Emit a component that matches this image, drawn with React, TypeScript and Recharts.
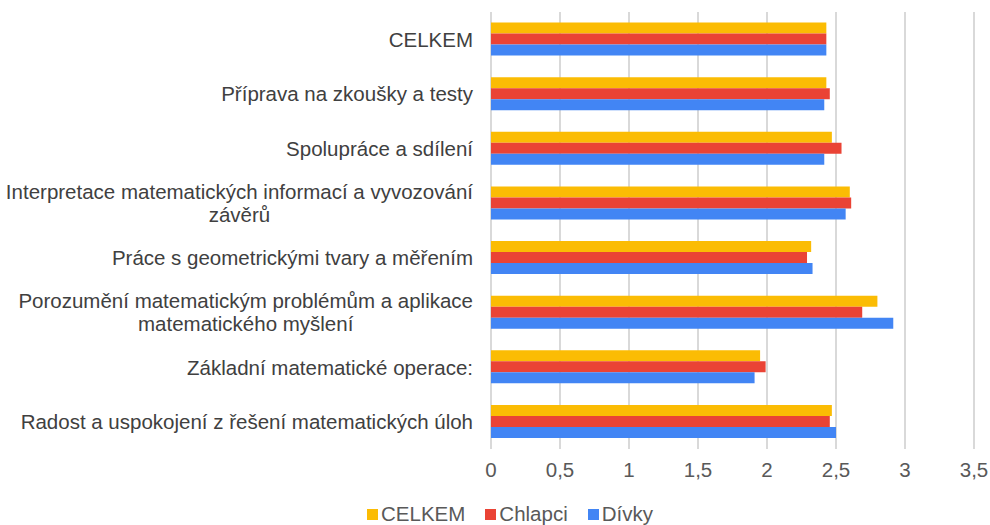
import React from 'react'
import { BarChart, Bar, XAxis, YAxis, CartesianGrid, Legend } from 'recharts'

document.body.style.margin = '0'

const categories = [
  'CELKEM',
  'Příprava na zkoušky a testy',
  'Spolupráce a sdílení',
  'Interpretace matematických informací a vyvozování\nzávěrů',
  'Práce s geometrickými tvary a měřením',
  'Porozumění matematickým problémům a aplikace\nmatematického myšlení',
  'Základní matematické operace:',
  'Radost a uspokojení z řešení matematických úloh',
]
const celkem = [2.43, 2.43, 2.47, 2.6, 2.32, 2.8, 1.95, 2.47]
const chlapci = [2.43, 2.455, 2.54, 2.61, 2.29, 2.69, 1.99, 2.455]
const divky = [2.43, 2.415, 2.415, 2.57, 2.33, 2.915, 1.91, 2.5]
const xTicks = [0, 0.5, 1, 1.5, 2, 2.5, 3, 3.5]

const series = [
  { key: 'CELKEM', color: '#fbbc04' },
  { key: 'Chlapci', color: '#ea4335' },
  { key: 'Dívky', color: '#4285f4' },
]

const data = categories.map((name, i) => ({
  name,
  CELKEM: celkem[i],
  Chlapci: chlapci[i],
  'Dívky': divky[i],
}))

const FONT = "'Liberation Sans', Arial, sans-serif"
const FS = 20.5

let ctx: CanvasRenderingContext2D | null = null
function measure(t: string) {
  if (!ctx) ctx = document.createElement('canvas').getContext('2d')
  if (!ctx) return t.length * 9
  ctx.font = `${FS}px ${FONT}`
  return ctx.measureText(t).width
}

function CategoryTick(props: any) {
  const { x, y, payload } = props
  const lines: string[] = String(payload.value).split('\n')
  const w = Math.max(...lines.map(measure))
  const lh = 23
  const y0 = y - ((lines.length - 1) * lh) / 2
  return (
    <text x={x - w / 2} y={y0} textAnchor="middle" fill="#404040" fontSize={FS} fontFamily={FONT}>
      {lines.map((l, i) => (
        <tspan key={i} x={x - w / 2} y={y0 + i * lh} dominantBaseline="central">
          {l}
        </tspan>
      ))}
    </text>
  )
}

function LegendBox() {
  return (
    <div style={{ display: 'flex', justifyContent: 'center', paddingLeft: 66, paddingTop: 17, fontFamily: FONT, fontSize: FS, color: '#595959' }}>
      {series.map((s) => (
        <span key={s.key} style={{ display: 'flex', alignItems: 'center', marginRight: 20 }}>
          <span style={{ width: 11, height: 11, background: s.color, display: 'inline-block', marginRight: 3 }} />
          {s.key}
        </span>
      ))}
    </div>
  )
}

export default function App() {
  return (
    <BarChart
      width={990}
      height={525}
      data={data}
      layout="vertical"
      margin={{ top: 12, right: 16, bottom: 0, left: 0 }}
      barCategoryGap={10.6}
      barGap={0}
    >
      <CartesianGrid horizontal={false} stroke="#d9d9d9" strokeWidth={2} />
      <XAxis
        type="number"
        domain={[0, 3.5]}
        ticks={xTicks}
        interval={0}
        axisLine={false}
        tickLine={false}
        tickSize={0}
        tickMargin={13}
        height={36}
        tick={{ fontSize: FS, fill: '#595959', fontFamily: FONT }}
        tickFormatter={(v: number) => String(v).replace('.', ',')}
      />
      <YAxis
        type="category"
        dataKey="name"
        width={491}
        axisLine={false}
        tickLine={false}
        tickSize={0}
        tickMargin={18}
        interval={0}
        tick={<CategoryTick />}
      />
      <Legend verticalAlign="bottom" height={40} content={<LegendBox />} />
      {series.map((s) => (
        <Bar key={s.key} dataKey={s.key} fill={s.color} isAnimationActive={false} />
      ))}
    </BarChart>
  )
}
